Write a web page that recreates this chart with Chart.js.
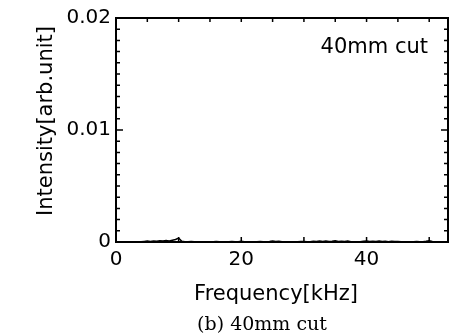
<!DOCTYPE html>
<html>
<head>
<meta charset="utf-8">
<script src="https://cdn.jsdelivr.net/npm/chart.js@4.4.1/dist/chart.umd.min.js"></script>
<style>
    body { margin: 0; background: #fff; }
</style>
</head>
<body>
<canvas id="SPECTRUM_CHART" width="452" height="336"></canvas>
<script>
// spectrum sampled every 0.5 kHz from 0 to 53 kHz
const freqStep = 0.5;
const intensity = [
    0.00003, 0.00002, 0.00003, 0.00002, 0.00002, 0.00003, 0.00002, 0.00003, 0.00002, 0.00005,
    0.00008, 0.00004, 0.00009, 0.00006, 0.00012, 0.00008, 0.00014, 0.00010, 0.00016, 0.00022,
    0.00035, 0.00006, 0.00003, 0.00002, 0.00004, 0.00002, 0.00003, 0.00002, 0.00003, 0.00002,
    0.00003, 0.00002, 0.00004, 0.00002, 0.00003, 0.00002, 0.00003, 0.00004, 0.00002, 0.00003,
    0.00006, 0.00002, 0.00003, 0.00002, 0.00003, 0.00002, 0.00004, 0.00002, 0.00003, 0.00005,
    0.00008, 0.00004, 0.00007, 0.00003, 0.00002, 0.00003, 0.00002, 0.00003, 0.00002, 0.00004,
    0.00005, 0.00003, 0.00002, 0.00007, 0.00004, 0.00009, 0.00005, 0.00008, 0.00004, 0.00006,
    0.00010, 0.00005, 0.00007, 0.00004, 0.00008, 0.00003, 0.00002, 0.00003, 0.00002, 0.00006,
    0.00009, 0.00004, 0.00007, 0.00005, 0.00008, 0.00004, 0.00006, 0.00003, 0.00007, 0.00004,
    0.00005, 0.00002, 0.00003, 0.00002, 0.00003, 0.00002, 0.00004, 0.00002, 0.00003, 0.00006,
    0.00010, 0.00004, 0.00003, 0.00002, 0.00003, 0.00002, 0.00003
];
const frequency = intensity.map((_, i) => i * freqStep);

const xTicks = [0, 20, 40];
const yTicks = [0, 0.01, 0.02];
const xMax = 53;
const yMax = 0.02;

const xTitle = 'Frequency[kHz]';
const yTitle = 'Intensity[arb.unit]';
const insetLabel = '40mm cut';
const caption = '(b) 40mm cut';

const SANS = '"DejaVu Sans", sans-serif';
const SERIF = '"DejaVu Serif", serif';

// box around the plot, inward ticks on all sides, titles and caption
const framePlugin = {
    id: 'frame',
    afterDraw(chart) {
        const ctx = chart.ctx;
        const a = chart.chartArea;
        const x = chart.scales.x;
        const y = chart.scales.y;

        ctx.save();
        ctx.strokeStyle = '#000';
        ctx.lineWidth = 2;
        ctx.strokeRect(a.left, a.top, a.right - a.left, a.bottom - a.top);

        ctx.lineWidth = 1.5;
        ctx.beginPath();
        for (let v = 0; v <= xMax; v += 5) {
            const px = x.getPixelForValue(v);
            if (v % 10 === 0) {
                ctx.moveTo(px, a.bottom);
                ctx.lineTo(px, a.bottom - 5);
            }
            ctx.moveTo(px, a.top);
            ctx.lineTo(px, a.top + 4);
        }
        for (let k = 0; k <= 20; k++) {
            const py = y.getPixelForValue(k * 0.001);
            const len = k % 10 === 0 ? 7 : 4;
            ctx.moveTo(a.left, py);
            ctx.lineTo(a.left + len, py);
            ctx.moveTo(a.right, py);
            ctx.lineTo(a.right - len, py);
        }
        ctx.stroke();

        ctx.fillStyle = '#000';
        ctx.font = '21px ' + SANS;
        ctx.textBaseline = 'alphabetic';
        ctx.textAlign = 'right';
        ctx.fillText(insetLabel, 428, 53);

        ctx.textAlign = 'center';
        ctx.fillText(xTitle, 276, 300);

        ctx.save();
        ctx.translate(47, 121);
        ctx.rotate(-Math.PI / 2);
        ctx.textBaseline = 'middle';
        ctx.fillText(yTitle, 0, 0);
        ctx.restore();

        ctx.font = '19px ' + SERIF;
        ctx.fillText(caption, 262, 330);
        ctx.restore();
    }
};

new Chart(document.getElementById('SPECTRUM_CHART').getContext('2d'), {
    type: 'line',
    data: {
        datasets: [{
            data: frequency.map((f, i) => ({ x: f, y: intensity[i] })),
            borderColor: '#000',
            borderWidth: 1.5,
            pointRadius: 0,
            tension: 0
        }]
    },
    options: {
        responsive: false,
        animation: false,
        layout: { padding: { top: 18, right: 4, left: 0, bottom: 0 } },
        plugins: { legend: { display: false }, tooltip: { enabled: false } },
        scales: {
            x: {
                type: 'linear',
                min: 0,
                max: xMax,
                afterBuildTicks: s => { s.ticks = xTicks.map(v => ({ value: v })); },
                afterFit: s => { s.height = 94; },
                grid: { display: false, drawTicks: false },
                border: { display: false },
                ticks: {
                    color: '#000',
                    font: { family: SANS, size: 20 },
                    padding: 6,
                    maxRotation: 0,
                    callback: v => String(v)
                }
            },
            y: {
                min: 0,
                max: yMax,
                afterBuildTicks: s => { s.ticks = yTicks.map(v => ({ value: v })); },
                afterFit: s => { s.width = 116; },
                grid: { display: false, drawTicks: false },
                border: { display: false },
                ticks: {
                    color: '#000',
                    font: { family: SANS, size: 20 },
                    padding: 5,
                    callback: v => String(v)
                }
            }
        }
    },
    plugins: [framePlugin]
});
</script>
</body>
</html>
